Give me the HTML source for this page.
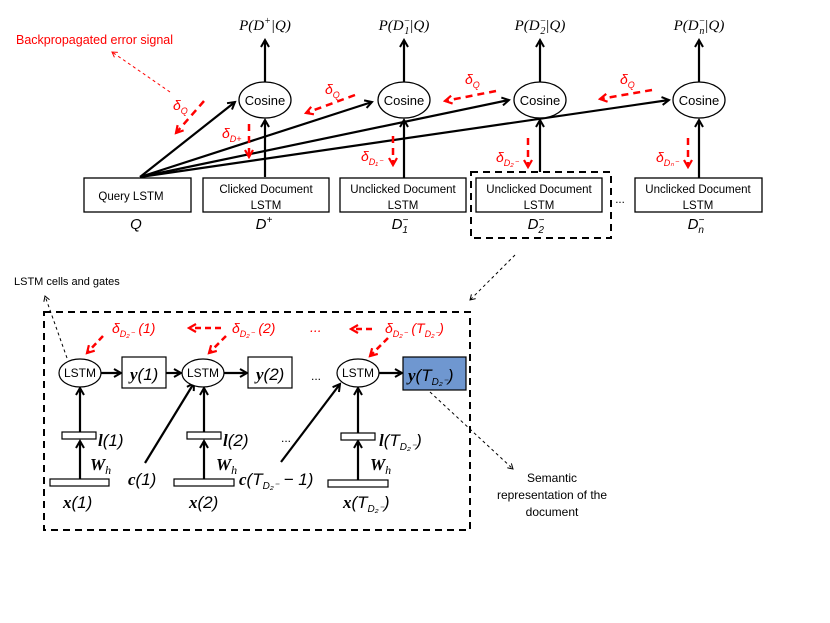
<!DOCTYPE html>
<html><head><meta charset="utf-8"><style>
html,body{margin:0;padding:0;background:#fff;}
svg{display:block;}
text{font-family:"Liberation Sans",sans-serif;}
.m{font-family:"Liberation Serif",serif;font-style:italic;}
.b{font-family:"Liberation Serif",serif;font-weight:bold;font-style:italic;}
.r{fill:#ff0000;}
</style></head><body>
<svg width="830" height="623" viewBox="0 0 830 623" xmlns="http://www.w3.org/2000/svg">
<defs>
<marker id="ab" markerWidth="10" markerHeight="10" refX="8" refY="5" orient="auto" markerUnits="userSpaceOnUse"><path d="M1,1 L8,5 L1,9" fill="none" stroke="#000" stroke-width="2"/></marker>
<marker id="ar" markerWidth="10" markerHeight="10" refX="8" refY="5" orient="auto" markerUnits="userSpaceOnUse"><path d="M1,1 L8,5 L1,9" fill="none" stroke="#f00" stroke-width="2.2"/></marker>
<marker id="at" markerWidth="8" markerHeight="8" refX="6" refY="4" orient="auto" markerUnits="userSpaceOnUse"><path d="M1,1 L6,4 L1,7" fill="none" stroke="#000" stroke-width="1"/></marker>
<marker id="atr" markerWidth="8" markerHeight="8" refX="6" refY="4" orient="auto" markerUnits="userSpaceOnUse"><path d="M1,1 L6,4 L1,7" fill="none" stroke="#f00" stroke-width="1"/></marker>
</defs>

<!-- top P labels -->
<g class="m" font-size="15" text-anchor="middle">
<text x="265" y="30" class="m">P(D<tspan font-size="10" dy="-6">+</tspan><tspan dy="6">|Q)</tspan></text>
<text x="404" y="30" class="m">P(D<tspan font-size="10" dy="-6">−</tspan><tspan font-size="10" dx="-6" dy="10">1</tspan><tspan dy="-4">|Q)</tspan></text>
<text x="540" y="30" class="m">P(D<tspan font-size="10" dy="-6">−</tspan><tspan font-size="10" dx="-6" dy="10">2</tspan><tspan dy="-4">|Q)</tspan></text>
<text x="699" y="30" class="m">P(D<tspan font-size="10" dy="-6">−</tspan><tspan font-size="10" dx="-6" dy="10">n</tspan><tspan dy="-4">|Q)</tspan></text>
</g>

<g stroke="#000" stroke-width="2.2" fill="none">
<line x1="265" y1="82" x2="265" y2="40" marker-end="url(#ab)"/>
<line x1="404" y1="82" x2="404" y2="40" marker-end="url(#ab)"/>
<line x1="540" y1="82" x2="540" y2="40" marker-end="url(#ab)"/>
<line x1="699" y1="82" x2="699" y2="40" marker-end="url(#ab)"/>
<line x1="265" y1="177" x2="265" y2="120" marker-end="url(#ab)"/>
<line x1="404" y1="178" x2="404" y2="120" marker-end="url(#ab)"/>
<line x1="540" y1="172" x2="540" y2="120" marker-end="url(#ab)"/>
<line x1="699" y1="178" x2="699" y2="120" marker-end="url(#ab)"/>
<line x1="140" y1="177" x2="235" y2="102" marker-end="url(#ab)"/>
<line x1="140" y1="177" x2="372" y2="102" marker-end="url(#ab)"/>
<line x1="140" y1="177" x2="509" y2="100" marker-end="url(#ab)"/>
<line x1="140" y1="177" x2="669" y2="100" marker-end="url(#ab)"/>
</g>
<g fill="#fff" stroke="#000" stroke-width="1.3">
<ellipse cx="265" cy="100" rx="26" ry="18"/>
<ellipse cx="404" cy="100" rx="26" ry="18"/>
<ellipse cx="540" cy="100" rx="26" ry="18"/>
<ellipse cx="699" cy="100" rx="26" ry="18"/>
<rect x="84" y="178" width="107" height="34"/>
<rect x="203" y="178" width="126" height="34"/>
<rect x="340" y="178" width="126" height="34"/>
<rect x="476" y="178" width="126" height="34"/>
<rect x="635" y="178" width="127" height="34"/>
</g>
<g font-size="13" text-anchor="middle">
<text x="265" y="105">Cosine</text><text x="404" y="105">Cosine</text>
<text x="540" y="105">Cosine</text><text x="699" y="105">Cosine</text>
</g>
<g font-size="11.5" text-anchor="middle">
<text x="131" y="200">Query LSTM</text>
<text x="266" y="193">Clicked Document</text><text x="266" y="209">LSTM</text>
<text x="403" y="193">Unclicked Document</text><text x="403" y="209">LSTM</text>
<text x="539" y="193">Unclicked Document</text><text x="539" y="209">LSTM</text>
<text x="698" y="193">Unclicked Document</text><text x="698" y="209">LSTM</text>
<text x="620" y="203">...</text>
</g>
<g class="m" font-size="15" text-anchor="middle">
<text x="136" y="229">Q</text>
<text x="264" y="229">D<tspan font-size="10" dy="-6">+</tspan></text>
<text x="400" y="229">D<tspan font-size="10" dy="-6">−</tspan><tspan font-size="10" dx="-6" dy="10">1</tspan></text>
<text x="536" y="229">D<tspan font-size="10" dy="-6">−</tspan><tspan font-size="10" dx="-6" dy="10">2</tspan></text>
<text x="696" y="229">D<tspan font-size="10" dy="-6">−</tspan><tspan font-size="10" dx="-6" dy="10">n</tspan></text>
</g>
<rect x="471" y="172" width="140" height="66" fill="none" stroke="#000" stroke-width="2" stroke-dasharray="7,5"/>

<!-- red top -->
<text x="16" y="44" font-size="12.5" class="r">Backpropagated error signal</text>
<line x1="170" y1="92" x2="112" y2="52" stroke="#f00" stroke-width="1" stroke-dasharray="3,3" marker-end="url(#atr)"/>
<g stroke="#f00" stroke-width="2.5" stroke-dasharray="7,5" fill="none">
<line x1="204" y1="101" x2="176" y2="133" marker-end="url(#ar)"/>
<line x1="355" y1="95" x2="306" y2="113" marker-end="url(#ar)"/>
<line x1="496" y1="91" x2="445" y2="101" marker-end="url(#ar)"/>
<line x1="652" y1="90" x2="600" y2="99" marker-end="url(#ar)"/>
<line x1="249" y1="124" x2="249" y2="157" marker-end="url(#ar)"/>
<line x1="393" y1="136" x2="393" y2="165" marker-end="url(#ar)"/>
<line x1="528" y1="138" x2="528" y2="167" marker-end="url(#ar)"/>
<line x1="688" y1="138" x2="688" y2="167" marker-end="url(#ar)"/>
</g>
<g class="m r" font-size="14">
<text x="173" y="110">δ<tspan font-size="9" dy="4">Q</tspan></text>
<text x="325" y="94">δ<tspan font-size="9" dy="4">Q</tspan></text>
<text x="465" y="84">δ<tspan font-size="9" dy="4">Q</tspan></text>
<text x="620" y="84">δ<tspan font-size="9" dy="4">Q</tspan></text>
<text x="222" y="138">δ<tspan font-size="9" dy="4">D+</tspan></text>
<text x="361" y="161">δ<tspan font-size="9" dy="4">D₁⁻</tspan></text>
<text x="496" y="162">δ<tspan font-size="9" dy="4">D₂⁻</tspan></text>
<text x="656" y="162">δ<tspan font-size="9" dy="4">Dₙ⁻</tspan></text>
</g>

<!-- bottom -->
<line x1="515" y1="255" x2="470" y2="300" stroke="#000" stroke-width="1" stroke-dasharray="3,3" marker-end="url(#at)"/>
<rect x="44" y="312" width="426" height="218" fill="none" stroke="#000" stroke-width="2" stroke-dasharray="7,5"/>
<text x="14" y="285" font-size="11">LSTM cells and gates</text>
<line x1="67" y1="358" x2="45" y2="296" stroke="#000" stroke-width="1" stroke-dasharray="3,3" marker-end="url(#at)"/>
<line x1="430" y1="392" x2="513" y2="469" stroke="#000" stroke-width="1" stroke-dasharray="3,3" marker-end="url(#at)"/>
<g font-size="12" text-anchor="middle">
<text x="552" y="482">Semantic</text><text x="552" y="499">representation of the</text><text x="552" y="516">document</text>
</g>

<g stroke="#000" stroke-width="2.2" fill="none">
<line x1="101" y1="373" x2="121" y2="373" marker-end="url(#ab)"/>
<line x1="166" y1="373" x2="181" y2="373" marker-end="url(#ab)"/>
<line x1="224" y1="373" x2="247" y2="373" marker-end="url(#ab)"/>
<line x1="379" y1="373" x2="402" y2="373" marker-end="url(#ab)"/>
<line x1="80" y1="480" x2="80" y2="441" marker-end="url(#ab)"/>
<line x1="80" y1="432" x2="80" y2="388" marker-end="url(#ab)"/>
<line x1="204" y1="480" x2="204" y2="441" marker-end="url(#ab)"/>
<line x1="204" y1="432" x2="204" y2="388" marker-end="url(#ab)"/>
<line x1="358" y1="480" x2="358" y2="441" marker-end="url(#ab)"/>
<line x1="358" y1="433" x2="358" y2="388" marker-end="url(#ab)"/>
<line x1="145" y1="463" x2="194" y2="383" marker-end="url(#ab)"/>
<line x1="281" y1="462" x2="340" y2="384" marker-end="url(#ab)"/>
</g>
<g fill="#fff" stroke="#000" stroke-width="1.2">
<ellipse cx="80" cy="373" rx="21" ry="14"/>
<ellipse cx="203" cy="373" rx="21" ry="14"/>
<ellipse cx="358" cy="373" rx="21" ry="14"/>
<rect x="122" y="357" width="44" height="31"/>
<rect x="248" y="357" width="44" height="31"/>
<rect x="403" y="357" width="63" height="33" fill="#6f97d0"/>
<rect x="62" y="432" width="34" height="7"/>
<rect x="187" y="432" width="34" height="7"/>
<rect x="341" y="433" width="34" height="7"/>
<rect x="50" y="479" width="59" height="7"/>
<rect x="174" y="479" width="60" height="7"/>
<rect x="328" y="480" width="60" height="7"/>
</g>
<g font-size="12" text-anchor="middle">
<text x="80" y="377">LSTM</text><text x="203" y="377">LSTM</text><text x="358" y="377">LSTM</text>
<text x="316" y="380">...</text><text x="286" y="442">...</text>
</g>
<g class="m" font-size="17">
<text x="130" y="380"><tspan class="b">y</tspan>(1)</text>
<text x="256" y="380"><tspan class="b">y</tspan>(2)</text>
<text x="408" y="381"><tspan class="b">y</tspan>(T<tspan font-size="10" dy="4">D₂⁻</tspan><tspan dy="-4">)</tspan></text>
<text x="98" y="446"><tspan class="b">l</tspan>(1)</text>
<text x="223" y="446"><tspan class="b">l</tspan>(2)</text>
<text x="379" y="446"><tspan class="b">l</tspan>(T<tspan font-size="10" dy="4">D₂⁻</tspan><tspan dy="-4">)</tspan></text>
<text x="90" y="470" class="b">W<tspan font-size="12" dy="4" class="m" font-weight="normal">h</tspan></text>
<text x="216" y="470" class="b">W<tspan font-size="12" dy="4" class="m" font-weight="normal">h</tspan></text>
<text x="370" y="470" class="b">W<tspan font-size="12" dy="4" class="m" font-weight="normal">h</tspan></text>
<text x="128" y="485"><tspan class="b">c</tspan>(1)</text>
<text x="239" y="485"><tspan class="b">c</tspan>(T<tspan font-size="10" dy="4">D₂⁻</tspan><tspan dy="-4"> − 1)</tspan></text>
<text x="63" y="508"><tspan class="b">x</tspan>(1)</text>
<text x="189" y="508"><tspan class="b">x</tspan>(2)</text>
<text x="343" y="508"><tspan class="b">x</tspan>(T<tspan font-size="10" dy="4">D₂⁻</tspan><tspan dy="-4">)</tspan></text>
</g>
<g stroke="#f00" stroke-width="2.5" stroke-dasharray="6,4" fill="none">
<line x1="103" y1="336" x2="87" y2="353" marker-end="url(#ar)"/>
<line x1="226" y1="336" x2="209" y2="353" marker-end="url(#ar)"/>
<line x1="388" y1="338" x2="370" y2="356" marker-end="url(#ar)"/>
<line x1="221" y1="328" x2="189" y2="328" marker-end="url(#ar)"/>
<line x1="372" y1="329" x2="351" y2="329" marker-end="url(#ar)"/>
</g>
<g class="m r" font-size="14">
<text x="112" y="333">δ<tspan font-size="9" dy="4">D₂⁻</tspan><tspan dy="-4"> (1)</tspan></text>
<text x="232" y="333">δ<tspan font-size="9" dy="4">D₂⁻</tspan><tspan dy="-4"> (2)</tspan></text>
<text x="310" y="332">...</text>
<text x="385" y="333">δ<tspan font-size="9" dy="4">D₂⁻</tspan><tspan dy="-4"> (T</tspan><tspan font-size="9" dy="4">D₂⁻</tspan><tspan dy="-4">)</tspan></text>
</g>
</svg>
</body></html>
